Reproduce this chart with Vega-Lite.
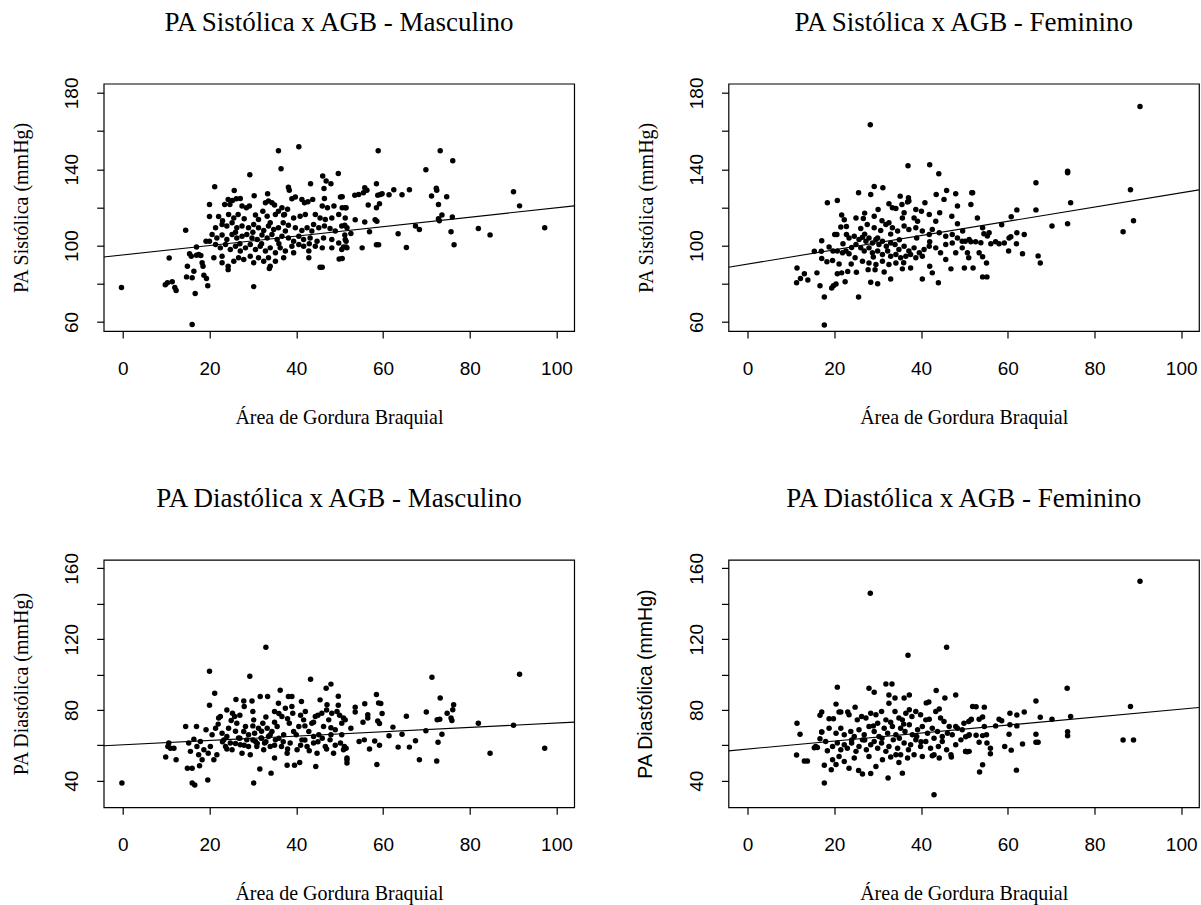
{
"$schema": "https://vega.github.io/schema/vega-lite/v6.json",
"autosize": {"type": "pad"},
"padding": {"left": 10.7, "top": 7.7, "right": 0, "bottom": 0},
"background": "white",
"config": {
  "view": {"stroke": "black", "strokeWidth": 1.2, "fill": "white"},
  "axis": {"domain": false, "grid": false, "tickColor": "black", "tickSize": 7, "tickWidth": 1.2, "labelColor": "black", "labelFont": "Liberation Sans", "labelFontSize": 19, "titleColor": "black", "titleFont": "Liberation Serif", "titleFontSize": 20, "titleFontWeight": "normal"},
  "title": {"font": "Liberation Serif", "fontSize": 27, "fontWeight": "normal", "color": "black", "baseline": "alphabetic", "offset": 40, "anchor": "middle"}
},
"datasets": {
"sm": [
{"x":-0.3,"y":78},{"x":9.8,"y":79.5},{"x":10.3,"y":80.5},{"x":10.7,"y":93.5},{"x":11.4,"y":81},{"x":12,"y":78},{"x":12.3,"y":76.5},{"x":14.5,"y":108},
{"x":14.9,"y":89.2},{"x":15.4,"y":95.7},{"x":15.8,"y":94.4},{"x":17,"y":94.9},{"x":17.5,"y":95.3},{"x":18,"y":94.8},{"x":14.7,"y":83.6},{"x":16,"y":83.1},{"x":16.4,"y":86.6},{"x":18.3,"y":91},{"x":18.5,"y":89.2},{"x":18.7,"y":84.5},{"x":19.3,"y":82.7},{"x":19.6,"y":79},{"x":16.7,"y":74.9},{"x":17,"y":99.3},{"x":19.2,"y":102.3},{"x":16,"y":58.6},
{"x":21.2,"y":130.8},{"x":25.7,"y":128.9},{"x":38.2,"y":130.6},{"x":38.4,"y":129},{"x":43.3,"y":132.4},{"x":46.1,"y":136.4},{"x":46.9,"y":133.8},{"x":48,"y":132.4},{"x":46.4,"y":129.9},{"x":46.5,"y":124.7},{"x":49.7,"y":137.8},{"x":50.2,"y":125.4},
{"x":35.9,"y":149.7},{"x":40.6,"y":151.8},{"x":36.5,"y":140.2},{"x":29.3,"y":137.1},
{"x":24.3,"y":124.2},{"x":25.3,"y":123.6},{"x":26.2,"y":124.5},{"x":27.1,"y":124.7},{"x":30.3,"y":126.1},{"x":33.4,"y":127.1},{"x":20,"y":121.5},{"x":23.5,"y":121.5},{"x":24.7,"y":121.5},{"x":27.5,"y":120.7},{"x":28.5,"y":119.8},{"x":29.2,"y":120.7},{"x":32.9,"y":122.4},{"x":33.6,"y":123.3},{"x":34.4,"y":122.4},{"x":35,"y":121.2},{"x":36.7,"y":119.8},{"x":37.3,"y":116.3},{"x":39,"y":124.5},{"x":39.8,"y":125.4},{"x":41.3,"y":124.2},{"x":41.9,"y":122.4},{"x":42.7,"y":122.9},{"x":43.8,"y":124.2},{"x":46,"y":120.7},{"x":47.2,"y":119.8},{"x":48.7,"y":120.7},{"x":51.5,"y":119.8},
{"x":22.1,"y":115.2},{"x":20,"y":115.2},{"x":24.4,"y":116.3},{"x":25.6,"y":114.5},{"x":26.6,"y":116.3},{"x":30.6,"y":116},{"x":31.3,"y":113.7},{"x":32.3,"y":118},{"x":33.3,"y":115.4},{"x":35.2,"y":116.3},{"x":35.9,"y":118},{"x":37.1,"y":116},{"x":39.4,"y":114.5},{"x":40.9,"y":115.4},{"x":42.1,"y":116.3},{"x":44.4,"y":116.3},{"x":45.5,"y":114.5},{"x":46.7,"y":113.7},{"x":48.2,"y":114.5},{"x":49.8,"y":116.3},{"x":51.3,"y":114.5},
{"x":21.4,"y":109.3},{"x":22.9,"y":111},{"x":24,"y":110.2},{"x":25.2,"y":111.9},{"x":26.3,"y":109.3},{"x":27.5,"y":110.2},{"x":29,"y":109.3},{"x":30.2,"y":111},{"x":31.3,"y":109.3},{"x":32.5,"y":107.9},{"x":33.6,"y":110.2},{"x":34.8,"y":108.4},{"x":35.9,"y":109.3},{"x":37.5,"y":107.6},{"x":38.2,"y":110.7},{"x":39.8,"y":109.3},{"x":41.3,"y":107.9},{"x":42.5,"y":109.3},{"x":43.6,"y":107.6},{"x":45.2,"y":109.3},{"x":46.5,"y":110.2},{"x":47.8,"y":109},{"x":49,"y":107.6},{"x":50.5,"y":110.2},{"x":51.7,"y":109.3},
{"x":20.6,"y":105.8},{"x":21.7,"y":104},{"x":22.9,"y":105.5},{"x":24,"y":103.2},{"x":25.2,"y":105.8},{"x":26.3,"y":104},{"x":27.5,"y":104.9},{"x":28.6,"y":105.8},{"x":29.8,"y":104},{"x":31,"y":103.2},{"x":32.1,"y":105.5},{"x":33.3,"y":104},{"x":34.4,"y":105.8},{"x":35.6,"y":103.2},{"x":36.7,"y":104.9},{"x":38.2,"y":104},{"x":39.4,"y":102.3},{"x":40.6,"y":104.9},{"x":41.7,"y":103.2},{"x":43.2,"y":104},{"x":44.8,"y":102.3},{"x":46.3,"y":104},{"x":48.2,"y":103.2},{"x":49.8,"y":101.4},{"x":51.3,"y":103.2},
{"x":21.4,"y":100.6},{"x":22.5,"y":98.8},{"x":23.7,"y":100.6},{"x":24.8,"y":97.9},{"x":26,"y":99.7},{"x":27.1,"y":97.1},{"x":28.3,"y":98.8},{"x":29.4,"y":100.6},{"x":30.6,"y":97.9},{"x":31.7,"y":99.7},{"x":32.9,"y":97.1},{"x":34,"y":98.8},{"x":35.2,"y":96.2},{"x":36.3,"y":98.8},{"x":37.5,"y":97.1},{"x":39,"y":99.7},{"x":40.6,"y":100.6},{"x":41.7,"y":99.7},{"x":42.9,"y":97.1},{"x":44.4,"y":99.7},{"x":46,"y":98.8},{"x":48.2,"y":98.8},{"x":50.5,"y":97.9},{"x":51.7,"y":98.8},
{"x":20,"y":102.3},{"x":21,"y":93.6},{"x":22.9,"y":91},{"x":24.3,"y":89.2},{"x":24.3,"y":87.4},{"x":25.6,"y":91.8},{"x":26.7,"y":93.6},{"x":27.9,"y":92.7},{"x":29.4,"y":94.4},{"x":30.2,"y":91},{"x":31.3,"y":93.6},{"x":32.5,"y":91.8},{"x":33.6,"y":93.6},{"x":34,"y":89.2},{"x":33.8,"y":88},{"x":35.2,"y":91.8},{"x":22.9,"y":94.4},{"x":30.2,"y":78.5},{"x":42.9,"y":93.6},{"x":45.5,"y":88.7},{"x":46,"y":88.7},{"x":49.9,"y":93},{"x":39.4,"y":96.2},{"x":37.1,"y":93.6},
{"x":23,"y":113},{"x":28,"y":114},{"x":34,"y":112},{"x":38,"y":119},{"x":44,"y":111},{"x":27,"y":101},{"x":32,"y":101},{"x":36,"y":101},{"x":43,"y":101},{"x":30,"y":107},{"x":37,"y":112},{"x":26,"y":107},
{"x":58.9,"y":149.7},{"x":73.2,"y":149.7},{"x":76.1,"y":144.4},{"x":69.9,"y":139.7},{"x":90.1,"y":128.2},{"x":91.5,"y":120.8},{"x":97.3,"y":109.3},{"x":82,"y":109},{"x":84.7,"y":105.6},{"x":76.4,"y":100.4},{"x":75.7,"y":107.2},{"x":72.8,"y":121.5},{"x":72.4,"y":129},{"x":72.3,"y":130},{"x":71.2,"y":126},{"x":74.7,"y":125.6},{"x":72.8,"y":114},{"x":73.6,"y":116},{"x":73,"y":113},{"x":76,"y":115},{"x":67.5,"y":110.2},{"x":68.4,"y":108.4},{"x":63.5,"y":106.2},{"x":65.4,"y":99},{"x":66.1,"y":129.2},{"x":64.4,"y":126.6},{"x":62.5,"y":129.2},{"x":61.4,"y":126.6},{"x":58.5,"y":132.4},{"x":58.8,"y":126.4},{"x":59.4,"y":126.8},{"x":59.8,"y":127.1},{"x":56.6,"y":121.2},{"x":59.2,"y":121.9},{"x":58.5,"y":119.8},{"x":58.6,"y":112.8},{"x":59,"y":100.4},{"x":58.5,"y":100.4},{"x":58.2,"y":113.5},{"x":54.4,"y":126.8},{"x":53.5,"y":126.4},{"x":55.5,"y":127.7},{"x":56.3,"y":129},{"x":55.8,"y":130.3},{"x":55.2,"y":98.8},{"x":52.6,"y":106.3},{"x":53.6,"y":113.5},{"x":55.8,"y":112.4},{"x":56.9,"y":107.2},{"x":50.6,"y":125.6},{"x":50.6,"y":119.8},{"x":51.3,"y":119.8},{"x":51.2,"y":110.7},{"x":50.9,"y":99.3},{"x":51.5,"y":99.2},{"x":50.6,"y":93.2},{"x":51.5,"y":102.3},{"x":51.2,"y":105.5}
],
"sf": [
{"x":28.3,"y":163.3},{"x":37,"y":141.8},{"x":42,"y":142.3},{"x":44.1,"y":137.6},{"x":25.6,"y":127.7},{"x":28.4,"y":126.8},{"x":29.2,"y":131},{"x":31.2,"y":130.3},{"x":18.4,"y":122.4},{"x":20.7,"y":123.6},{"x":35.2,"y":125.9},{"x":37.1,"y":125},{"x":37.2,"y":123.3},{"x":36.9,"y":122.8},{"x":43.5,"y":126.8},{"x":45.3,"y":124.2},{"x":45.9,"y":128.9},{"x":48,"y":127.1},{"x":51.7,"y":127.7},{"x":51.5,"y":121.5},{"x":48.4,"y":120.7},{"x":47.1,"y":115.4},{"x":48.4,"y":111.4},{"x":44.3,"y":117.2},
{"x":21.7,"y":116},{"x":22.3,"y":113.5},{"x":21.5,"y":109.7},{"x":22.8,"y":110},{"x":20.1,"y":105.8},{"x":20.6,"y":105.8},{"x":22.8,"y":105.8},
{"x":25,"y":114.5},{"x":26.7,"y":114.2},{"x":29.2,"y":115.4},{"x":30.1,"y":118.9},{"x":32.6,"y":121.9},{"x":33.4,"y":119.8},{"x":34.2,"y":119.4},{"x":35.6,"y":121.5},{"x":36.1,"y":117.2},{"x":38.8,"y":118.9},{"x":40.1,"y":118},{"x":40.9,"y":122.4},{"x":41.9,"y":116.3},{"x":43.4,"y":112.8},{"x":38.4,"y":114.5},{"x":39.2,"y":112.8},{"x":35.7,"y":114.5},{"x":32.6,"y":111.9},
{"x":26.1,"y":109},{"x":27.6,"y":111},{"x":29.2,"y":109.3},{"x":30.7,"y":107.9},{"x":31.9,"y":111},{"x":33.4,"y":109.3},{"x":34.6,"y":107.6},{"x":36.1,"y":110.2},{"x":37.2,"y":108.4},{"x":38.8,"y":109.3},{"x":40.3,"y":107.6},{"x":41.9,"y":105.8},{"x":42.6,"y":108.4},{"x":44.2,"y":106.7},{"x":45.7,"y":104.9},{"x":47.2,"y":105.8},{"x":48.4,"y":104},{"x":49.5,"y":102.3},{"x":51.1,"y":103.2},
{"x":23.4,"y":104},{"x":24.6,"y":104.9},{"x":25.7,"y":103.2},{"x":26.5,"y":104.4},{"x":27.3,"y":102.3},{"x":28,"y":104},{"x":28.8,"y":101.4},{"x":29.6,"y":103.2},{"x":30.3,"y":100.6},{"x":31.1,"y":102.3},{"x":32,"y":99.7},{"x":33,"y":101.4},{"x":34,"y":100.6},{"x":34.9,"y":97.9},{"x":36.1,"y":99.7},{"x":37.2,"y":97.1},{"x":38.4,"y":98.8},{"x":39.6,"y":96.2},{"x":40.7,"y":97.9},{"x":41.9,"y":99.7},{"x":43.4,"y":98.8},{"x":44.5,"y":96.2},{"x":45.7,"y":100.6},{"x":47.2,"y":101.4},{"x":48,"y":96.2},{"x":49.5,"y":98.8},{"x":50.7,"y":96.2},
{"x":25,"y":100.6},{"x":26.1,"y":98.8},{"x":26.9,"y":97.1},{"x":28,"y":98.8},{"x":28.8,"y":96.2},{"x":30,"y":97.1},{"x":31.1,"y":95.3},{"x":32.3,"y":97.1},{"x":33,"y":94.4},{"x":34.2,"y":95.3},{"x":35.3,"y":93.6},{"x":36.5,"y":94.4},{"x":37.6,"y":95.3},{"x":38.8,"y":93.6},{"x":40.3,"y":94.4},
{"x":19.7,"y":97.1},{"x":20.7,"y":97.1},{"x":21.9,"y":96.2},{"x":22.7,"y":97.1},{"x":23.4,"y":95.7},{"x":21.1,"y":90.4},{"x":19.6,"y":92.2},{"x":23.9,"y":90.4},{"x":24.8,"y":93.6},{"x":26.5,"y":91.8},{"x":28,"y":90.9},{"x":29.6,"y":90.1},{"x":31.1,"y":91.8},{"x":32.6,"y":90.1},{"x":34.2,"y":90.9},
{"x":15.4,"y":97},{"x":17,"y":97},{"x":17.1,"y":93.2},{"x":18.3,"y":91.5},{"x":18.8,"y":99.3},{"x":17.1,"y":102.5},{"x":16,"y":85.7},{"x":16.7,"y":79},{"x":19.4,"y":77.8},{"x":19.8,"y":79},{"x":20.4,"y":79.9},
{"x":20.7,"y":85.2},{"x":21.7,"y":85.7},{"x":22.5,"y":81},{"x":23.1,"y":86.4},{"x":25.1,"y":86},
{"x":11.4,"y":88.3},{"x":11.3,"y":80.5},{"x":12.2,"y":82.7},{"x":13.1,"y":85.3},{"x":13.9,"y":82},
{"x":17.7,"y":73.1},{"x":17.7,"y":58.4},{"x":25.6,"y":73.1},
{"x":27.8,"y":87.4},{"x":29.4,"y":87.3},{"x":28.4,"y":80.8},{"x":30,"y":80},{"x":31.5,"y":86.2},{"x":33,"y":82.5},
{"x":35.7,"y":87.8},{"x":37.6,"y":88.3},{"x":40.3,"y":82.5},{"x":42,"y":89.2},{"x":42.6,"y":85.7},{"x":44,"y":80.5},
{"x":46.9,"y":87.8},{"x":52,"y":88.3},{"x":45.7,"y":92.7},{"x":51,"y":93.6},
{"x":24,"y":99},{"x":27,"y":106},{"x":30,"y":104},{"x":33,"y":106},{"x":35,"y":103},{"x":39,"y":104},{"x":29,"y":94},{"x":36,"y":91},{"x":31,"y":113},{"x":27,"y":117},{"x":42,"y":102},{"x":22,"y":101},
{"x":90.5,"y":172.8},{"x":73.8,"y":139},{"x":73.8,"y":138.1},{"x":66.5,"y":132.9},{"x":66.5,"y":118.7},{"x":88.3,"y":129.2},{"x":89,"y":113},{"x":86.6,"y":107.2},{"x":74.5,"y":122.4},{"x":73.8,"y":111.4},{"x":70.2,"y":110.3},{"x":62.1,"y":118.7},{"x":60.8,"y":115.1},{"x":58.6,"y":110.9},{"x":63.4,"y":95.7},{"x":67,"y":94.6},{"x":67.5,"y":90.9},{"x":51.9,"y":127.7},{"x":53,"y":114.5},{"x":49.6,"y":107.6},{"x":50.2,"y":102.3},{"x":51.5,"y":102},{"x":52.6,"y":102},{"x":53.8,"y":101.5},{"x":54.2,"y":109.3},{"x":54.5,"y":106.2},{"x":55.7,"y":106.7},{"x":55.3,"y":105},{"x":56.1,"y":100.9},{"x":57.2,"y":102},{"x":58,"y":101},{"x":59.2,"y":101.4},{"x":60.3,"y":104},{"x":60.7,"y":104.6},{"x":62.1,"y":106.7},{"x":63.8,"y":105.8},{"x":62,"y":100.9},{"x":60.2,"y":97.2},{"x":53.4,"y":96.2},{"x":54.2,"y":94.1},{"x":55.1,"y":90.9},{"x":50,"y":88.3},{"x":54.2,"y":83.6},{"x":55.2,"y":83.6}
],
"dm": [
{"x":-0.2,"y":38.7},{"x":9.9,"y":53.4},{"x":12.3,"y":51.9},{"x":10.4,"y":59.4},{"x":11,"y":58.4},{"x":11.8,"y":58.4},{"x":10.6,"y":61.3},
{"x":14.5,"y":70.7},{"x":17,"y":70.7},{"x":14.9,"y":47.1},{"x":16,"y":47.1},{"x":17.7,"y":48.5},{"x":16,"y":38.7},{"x":16.6,"y":37.6},{"x":19.6,"y":40.4},
{"x":15.2,"y":61.3},{"x":15.6,"y":56.6},{"x":16.4,"y":63.5},{"x":17.1,"y":59.4},{"x":17.5,"y":54.7},{"x":18.3,"y":51.9},{"x":17.9,"y":62.2},{"x":18.7,"y":57.5},{"x":19.2,"y":68.8},{"x":19.7,"y":55.6},{"x":20.2,"y":59.4},{"x":20.6,"y":66},{"x":21,"y":51.9},{"x":20,"y":101.9},{"x":21.2,"y":89.5},{"x":20,"y":82.7},{"x":22.1,"y":75.4},{"x":22.5,"y":76.3},{"x":21.4,"y":69.7},{"x":21.7,"y":54.7},
{"x":22.9,"y":66.9},{"x":23.3,"y":63.1},{"x":23.7,"y":59.4},{"x":24,"y":65},{"x":24.4,"y":69.7},{"x":24.8,"y":61.3},{"x":25.2,"y":57.5},{"x":25.3,"y":78.2},{"x":25.8,"y":76.3},{"x":26.1,"y":85.9},{"x":26.3,"y":72.5},{"x":26.7,"y":64.1},{"x":27.1,"y":60.3},{"x":27.5,"y":55.6},{"x":27.9,"y":85},{"x":27.9,"y":67.8},{"x":28.3,"y":70.7},{"x":28.6,"y":63.1},{"x":29,"y":59.4},{"x":29.3,"y":99.1},{"x":29.4,"y":54.7},{"x":29.8,"y":85},{"x":30,"y":79.1},{"x":30.2,"y":74.4},{"x":30.2,"y":38.7},{"x":30.4,"y":66.9},{"x":30.6,"y":62.2},{"x":30.9,"y":59.4},{"x":31.3,"y":69.7},{"x":31.6,"y":46.6},{"x":31.7,"y":87.6},{"x":31.9,"y":64.1},{"x":32.3,"y":72.5},{"x":32.5,"y":57.5},{"x":32.7,"y":61.3},{"x":33,"y":115.4},{"x":33.3,"y":69.7},{"x":33.4,"y":87.6},{"x":33.6,"y":65},{"x":34,"y":59.4},{"x":34.2,"y":44.3},{"x":34.4,"y":67.8},{"x":35,"y":79.1},{"x":35,"y":52.8},{"x":35.2,"y":63.1},{"x":35.6,"y":70.7},{"x":35.9,"y":83.8},{"x":36.3,"y":91.2},{"x":36.6,"y":59.4},{"x":36.7,"y":76.3},{"x":37.1,"y":66},{"x":37.5,"y":81},{"x":37.9,"y":48.7},{"x":37.9,"y":55.6},{"x":38.2,"y":87.6},{"x":38.4,"y":72.5},{"x":38.6,"y":61.3},{"x":39,"y":87.6},{"x":39.2,"y":78.2},{"x":39.4,"y":67.8},{"x":39.6,"y":48.7},{"x":40.2,"y":57.5},{"x":40.6,"y":70.7},{"x":40.8,"y":50.3},{"x":41.2,"y":84.8},{"x":41.3,"y":63.1},{"x":41.7,"y":74.4},{"x":42.1,"y":79.1},{"x":42.5,"y":59.4},{"x":42.9,"y":67.8},{"x":43.3,"y":97.4},{"x":43.6,"y":72.5},{"x":44,"y":61.3},{"x":44.4,"y":76.3},{"x":44.5,"y":48.1},{"x":44.8,"y":55.6},{"x":45.2,"y":66},{"x":45.5,"y":85.7},{"x":45.9,"y":78.2},{"x":46.3,"y":70.7},{"x":46.7,"y":59.4},{"x":46.9,"y":92.3},{"x":47.1,"y":82.9},{"x":47.5,"y":74.4},{"x":47.8,"y":63.1},{"x":48,"y":94.6},{"x":48.2,"y":78.2},{"x":48.6,"y":55.6},{"x":49,"y":68.8},{"x":49.4,"y":79.1},{"x":49.7,"y":87.8},{"x":49.7,"y":82.7},{"x":50.2,"y":61.3},{"x":50.5,"y":72.5},{"x":50.9,"y":57.5},{"x":51.7,"y":51.9},{"x":51.7,"y":50},
{"x":23,"y":62},{"x":24,"y":58},{"x":26,"y":61},{"x":27,"y":64},{"x":28,"y":60},{"x":29,"y":66},{"x":30,"y":63},{"x":31,"y":61},{"x":32,"y":64},{"x":33,"y":62},{"x":34,"y":66},{"x":35,"y":60},{"x":36,"y":64},{"x":37,"y":62},{"x":38,"y":58},{"x":40,"y":66},{"x":41,"y":60},{"x":42,"y":63},{"x":43,"y":57},{"x":44,"y":65},{"x":45,"y":62},{"x":46,"y":64},{"x":47,"y":58},{"x":48,"y":66},{"x":49,"y":60},
{"x":22,"y":72},{"x":25,"y":74},{"x":27,"y":77},{"x":30,"y":71},{"x":33,"y":76},{"x":35,"y":73},{"x":38,"y":75},{"x":41,"y":77},{"x":44,"y":73},{"x":47,"y":80},{"x":24,"y":80},{"x":28,"y":82},{"x":26,"y":68},{"x":32,"y":68},{"x":36,"y":78},{"x":39,"y":82},{"x":42,"y":71},{"x":45,"y":77},{"x":48,"y":70},{"x":50,"y":77},
{"x":91.5,"y":100.2},{"x":71.3,"y":98.5},{"x":97.3,"y":58.4},{"x":84.7,"y":55.6},{"x":82,"y":72.5},{"x":90.1,"y":71.4},{"x":73.2,"y":86.7},{"x":70,"y":78.8},{"x":69.9,"y":68.2},{"x":68.4,"y":51.9},{"x":72.4,"y":51.1},{"x":76.3,"y":82.9},{"x":76.1,"y":80.1},{"x":74.8,"y":78.2},{"x":75.7,"y":75.4},{"x":75.9,"y":74.1},{"x":73.6,"y":66.3},{"x":72.7,"y":61.8},{"x":72.5,"y":74.5},{"x":73.1,"y":74.7},{"x":65.4,"y":76.5},{"x":62.3,"y":70.3},{"x":61.4,"y":65.4},{"x":63.5,"y":59},{"x":66.1,"y":59},{"x":64.4,"y":66.3},{"x":67.5,"y":62.6},{"x":58.5,"y":88.7},{"x":59,"y":84},{"x":59.5,"y":83.6},{"x":59.8,"y":78},{"x":58.8,"y":73.7},{"x":59.2,"y":72.3},{"x":58.1,"y":62.4},{"x":59.2,"y":60.1},{"x":58.6,"y":49.2},{"x":56.9,"y":58},{"x":55.7,"y":63.1},{"x":54.5,"y":62.2},{"x":55.4,"y":73.1},{"x":56.5,"y":77.3},{"x":56.5,"y":75.4},{"x":55.8,"y":83.5},{"x":53.6,"y":81.6},{"x":53.6,"y":78.8},{"x":52.6,"y":69.7},{"x":50.9,"y":75.4},{"x":51.3,"y":74.4},{"x":50.5,"y":66},{"x":51.1,"y":59.4},{"x":51.5,"y":58.4},{"x":51.7,"y":52.8}
],
"df": [
{"x":28.3,"y":145.9},{"x":37,"y":110.9},{"x":45.9,"y":115.4},{"x":20.7,"y":92.9},{"x":17.7,"y":38.7},{"x":43,"y":32.1},
{"x":11.4,"y":72.5},{"x":12.1,"y":66.3},{"x":11.3,"y":54.5},{"x":13.1,"y":51.1},{"x":13.8,"y":51.1},
{"x":16.7,"y":77},{"x":17.1,"y":78.8},{"x":17.1,"y":67.5},{"x":16.7,"y":63.7},{"x":15.4,"y":58.6},{"x":16.1,"y":58.8},{"x":17.7,"y":48.7},{"x":19.3,"y":46.2},{"x":18.4,"y":56.9},{"x":20.4,"y":49.2},
{"x":28,"y":92.3},{"x":29.2,"y":90},{"x":31.9,"y":94.7},{"x":33.3,"y":94.7},{"x":32.6,"y":88.5},{"x":34,"y":86.7},{"x":36.1,"y":86.7},{"x":37.3,"y":88.5},{"x":43.5,"y":91},{"x":45.5,"y":86.7},{"x":48,"y":88.4},{"x":44.2,"y":80.6},{"x":41.2,"y":84},{"x":41.8,"y":84.5},
{"x":24.8,"y":81.6},{"x":21.5,"y":78.8},{"x":23.1,"y":78.8},{"x":18.8,"y":75},{"x":19.8,"y":75},{"x":20.4,"y":83.3},
{"x":29.6,"y":48.1},{"x":32.4,"y":41.5},{"x":35.7,"y":44.3},{"x":26.5,"y":43.8},{"x":28.4,"y":44.1},{"x":25.6,"y":45.8},{"x":23.4,"y":47.1},
{"x":50.3,"y":56.6},{"x":51.1,"y":56.6},{"x":47,"y":53.4},
{"x":21.1,"y":78.8},{"x":23.4,"y":77.3},{"x":25.3,"y":74.4},{"x":26.3,"y":76.3},{"x":27.3,"y":75.4},{"x":28.4,"y":78.2},{"x":29.6,"y":77.3},{"x":30.9,"y":79.1},{"x":31.9,"y":74.4},{"x":32.6,"y":83.8},{"x":34,"y":79.1},{"x":34.9,"y":75.4},{"x":35.7,"y":74.4},{"x":36.5,"y":78.2},{"x":37.3,"y":80.1},{"x":37.9,"y":76.3},{"x":38.8,"y":79.1},{"x":39.9,"y":77.3},{"x":41.1,"y":74.4},{"x":41.9,"y":74.8},{"x":43.4,"y":79.1},{"x":44.5,"y":75.4},{"x":45.3,"y":73.5},{"x":46.5,"y":70.7},{"x":48,"y":70.7},{"x":49.9,"y":72.5},{"x":51.5,"y":74.4},
{"x":17.1,"y":67.5},{"x":18.8,"y":69.7},{"x":20.4,"y":66.9},{"x":21.5,"y":69.7},{"x":22.3,"y":66},{"x":23.8,"y":67.8},{"x":24.6,"y":65},{"x":25.7,"y":68.8},{"x":26.9,"y":66},{"x":28,"y":70.7},{"x":29.2,"y":67.8},{"x":30,"y":72.5},{"x":30.3,"y":65},{"x":31.5,"y":69.7},{"x":32.3,"y":66.9},{"x":33.4,"y":70.7},{"x":34.2,"y":66},{"x":35.3,"y":69.7},{"x":36.3,"y":67.8},{"x":37.3,"y":71.6},{"x":38,"y":66},{"x":39.2,"y":68.8},{"x":40.3,"y":70.7},{"x":41.5,"y":66.9},{"x":42.6,"y":69.7},{"x":43.8,"y":67.8},{"x":44.9,"y":65},{"x":46.1,"y":66.9},{"x":47.2,"y":66},{"x":48.4,"y":69.7},{"x":49.5,"y":68.8},{"x":51.1,"y":66},
{"x":15.7,"y":59.4},{"x":18,"y":62.2},{"x":19.6,"y":59.4},{"x":20.7,"y":61.3},{"x":21.5,"y":57.5},{"x":22.3,"y":60.3},{"x":23,"y":58.4},{"x":24,"y":61.3},{"x":25,"y":56.6},{"x":25.7,"y":59.4},{"x":26.5,"y":63.1},{"x":27.4,"y":57.5},{"x":28.4,"y":60.3},{"x":29.2,"y":62.2},{"x":30,"y":58.4},{"x":30.9,"y":61.3},{"x":31.9,"y":56.6},{"x":32.6,"y":59.4},{"x":33.6,"y":63.1},{"x":34.6,"y":58.4},{"x":35.3,"y":54.7},{"x":36.1,"y":61.3},{"x":37.1,"y":57.5},{"x":37.6,"y":60.3},{"x":38.8,"y":63.1},{"x":39.9,"y":59.4},{"x":41.1,"y":62.2},{"x":42.2,"y":58.4},{"x":43,"y":54.7},{"x":44,"y":59.4},{"x":44.9,"y":62.2},{"x":45.9,"y":57.5},{"x":46.9,"y":54.7},{"x":48,"y":60.3},{"x":49.2,"y":63.1},{"x":50.3,"y":56.6},
{"x":19.6,"y":51.9},{"x":21.1,"y":53.7},{"x":22.3,"y":50.9},{"x":24.6,"y":52.8},{"x":28,"y":53.7},{"x":31.1,"y":51.9},{"x":33,"y":53.4},{"x":34.2,"y":54.7},{"x":34.9,"y":50.3},{"x":36.9,"y":52.8},{"x":38.4,"y":54.7},{"x":40.3,"y":53.7},{"x":42.6,"y":54.1},{"x":44.2,"y":52.8},
{"x":27,"y":63},{"x":31,"y":64},{"x":35,"y":64},{"x":39,"y":65},{"x":33,"y":73},{"x":29,"y":71},{"x":36,"y":72},{"x":40,"y":62},{"x":24,"y":63},{"x":43,"y":64},
{"x":90.5,"y":152.7},{"x":73.7,"y":92.3},{"x":66.5,"y":85},{"x":88.3,"y":82},{"x":86.6,"y":63},{"x":89,"y":63},{"x":74.5,"y":76.3},{"x":73.8,"y":65.4},{"x":73.8,"y":67.7},{"x":67.5,"y":75.9},{"x":66.5,"y":66.3},{"x":66.5,"y":61.8},{"x":67,"y":61.8},{"x":70.2,"y":74.8},{"x":63.8,"y":78.8},{"x":62.1,"y":77.1},{"x":60.5,"y":78.2},{"x":62.1,"y":71},{"x":60.5,"y":71.6},{"x":60.3,"y":66.3},{"x":63.4,"y":60.7},{"x":59.3,"y":59.4},{"x":60.8,"y":57.3},{"x":62,"y":46},{"x":58,"y":74.8},{"x":58.6,"y":73.9},{"x":57.2,"y":71},{"x":56,"y":58.4},{"x":56,"y":55.2},{"x":55.2,"y":61.3},{"x":53.4,"y":61.8},{"x":54.2,"y":49},{"x":53.5,"y":44.9},{"x":54.6,"y":81.6},{"x":51.9,"y":82},{"x":52.7,"y":81.8},{"x":54.2,"y":76},{"x":53.4,"y":74.8},{"x":51.6,"y":74.8},{"x":51,"y":73.5},{"x":54.6,"y":70.7},{"x":55.1,"y":66},{"x":54.2,"y":65.5},{"x":52.7,"y":65.7},{"x":51,"y":65.5},{"x":50.3,"y":64.8},{"x":50.3,"y":56.5},{"x":50.7,"y":56.4}
],
"lines": [
{"p":"sm","x":-4.4,"y":94.0},{"p":"sm","x":104.1,"y":120.8},
{"p":"sf","x":-4.4,"y":88.65},{"p":"sf","x":104.1,"y":129.2},
{"p":"dm","x":-4.4,"y":59.75},{"p":"dm","x":104.1,"y":73.1},
{"p":"df","x":-4.4,"y":56.9},{"p":"df","x":104.1,"y":81.4}
]
},
"columns": 2,
"bounds": "flush",
"spacing": {"row": 228.2, "column": 153.8},
"concat": [
{
 "width": 470.5, "height": 247.4,
 "title": "PA Sistólica x AGB - Masculino",
 "layer": [
  {"data": {"name": "sm"}, "mark": {"type": "circle", "size": 30, "color": "black", "opacity": 1},
   "encoding": {
    "x": {"field": "x", "type": "quantitative", "scale": {"domain": [-4.4, 104.1], "nice": false, "zero": false},
          "axis": {"values": [0, 20, 40, 60, 80, 100], "title": "Área de Gordura Braquial", "labelBaseline": "alphabetic", "labelPadding": 36.5, "titleX": 235.25, "titleY": 92, "titleAlign": "center", "titleBaseline": "alphabetic"}},
    "y": {"field": "y", "type": "quantitative", "scale": {"domain": [55.2, 184.8], "nice": false, "zero": false},
          "axis": {"values": [60, 80, 100, 120, 140, 160, 180], "labelExpr": "(datum.value - 20) % 40 == 0 ? datum.label : ''", "labelAngle": 270, "labelAlign": "center", "labelBaseline": "middle", "labelPadding": 25, "title": "PA Sistólica (mmHg)", "titleX": -82, "titleY": 123.7, "titleAngle": 270, "titleAlign": "center", "titleBaseline": "middle"}}
   }},
  {"data": {"name": "lines"}, "transform": [{"filter": "datum.p == 'sm'"}], "mark": {"type": "line", "color": "black", "strokeWidth": 1.1, "clip": true},
   "encoding": {"x": {"field": "x", "type": "quantitative"}, "y": {"field": "y", "type": "quantitative"}}}
 ]
},
{
 "width": 470.5, "height": 247.4,
 "title": "PA Sistólica x AGB - Feminino",
 "layer": [
  {"data": {"name": "sf"}, "mark": {"type": "circle", "size": 30, "color": "black", "opacity": 1},
   "encoding": {
    "x": {"field": "x", "type": "quantitative", "scale": {"domain": [-4.4, 104.1], "nice": false, "zero": false},
          "axis": {"values": [0, 20, 40, 60, 80, 100], "title": "Área de Gordura Braquial", "labelBaseline": "alphabetic", "labelPadding": 36.5, "titleX": 235.25, "titleY": 92, "titleAlign": "center", "titleBaseline": "alphabetic"}},
    "y": {"field": "y", "type": "quantitative", "scale": {"domain": [55.2, 184.8], "nice": false, "zero": false},
          "axis": {"values": [60, 80, 100, 120, 140, 160, 180], "labelExpr": "(datum.value - 20) % 40 == 0 ? datum.label : ''", "labelAngle": 270, "labelAlign": "center", "labelBaseline": "middle", "labelPadding": 25, "title": "PA Sistólica (mmHg)", "titleX": -82, "titleY": 123.7, "titleAngle": 270, "titleAlign": "center", "titleBaseline": "middle"}}
   }},
  {"data": {"name": "lines"}, "transform": [{"filter": "datum.p == 'sf'"}], "mark": {"type": "line", "color": "black", "strokeWidth": 1.1, "clip": true},
   "encoding": {"x": {"field": "x", "type": "quantitative"}, "y": {"field": "y", "type": "quantitative"}}}
 ]
},
{
 "width": 470.5, "height": 247.4,
 "title": "PA Diastólica x AGB - Masculino",
 "layer": [
  {"data": {"name": "dm"}, "mark": {"type": "circle", "size": 30, "color": "black", "opacity": 1},
   "encoding": {
    "x": {"field": "x", "type": "quantitative", "scale": {"domain": [-4.4, 104.1], "nice": false, "zero": false},
          "axis": {"values": [0, 20, 40, 60, 80, 100], "title": "Área de Gordura Braquial", "labelBaseline": "alphabetic", "labelPadding": 36.5, "titleX": 235.25, "titleY": 92, "titleAlign": "center", "titleBaseline": "alphabetic"}},
    "y": {"field": "y", "type": "quantitative", "scale": {"domain": [25, 164.8], "nice": false, "zero": false},
          "axis": {"values": [40, 60, 80, 100, 120, 140, 160], "labelExpr": "datum.value % 40 == 0 ? datum.label : ''", "labelAngle": 270, "labelAlign": "center", "labelBaseline": "middle", "labelPadding": 25, "title": "PA Diastólica (mmHg)", "titleX": -82, "titleY": 123.7, "titleAngle": 270, "titleAlign": "center", "titleBaseline": "middle"}}
   }},
  {"data": {"name": "lines"}, "transform": [{"filter": "datum.p == 'dm'"}], "mark": {"type": "line", "color": "black", "strokeWidth": 1.1, "clip": true},
   "encoding": {"x": {"field": "x", "type": "quantitative"}, "y": {"field": "y", "type": "quantitative"}}}
 ]
},
{
 "width": 470.5, "height": 247.4,
 "title": "PA Diastólica x AGB - Feminino",
 "layer": [
  {"data": {"name": "df"}, "mark": {"type": "circle", "size": 30, "color": "black", "opacity": 1},
   "encoding": {
    "x": {"field": "x", "type": "quantitative", "scale": {"domain": [-4.4, 104.1], "nice": false, "zero": false},
          "axis": {"values": [0, 20, 40, 60, 80, 100], "title": "Área de Gordura Braquial", "labelBaseline": "alphabetic", "labelPadding": 36.5, "titleX": 235.25, "titleY": 92, "titleAlign": "center", "titleBaseline": "alphabetic"}},
    "y": {"field": "y", "type": "quantitative", "scale": {"domain": [25, 164.8], "nice": false, "zero": false},
          "axis": {"values": [40, 60, 80, 100, 120, 140, 160], "labelExpr": "datum.value % 40 == 0 ? datum.label : ''", "labelAngle": 270, "labelAlign": "center", "labelBaseline": "middle", "labelPadding": 25, "title": "PA Diastólica (mmHg)", "titleFont": "Liberation Sans", "titleFontSize": 19.5, "titleX": -83, "titleY": 123.7, "titleAngle": 270, "titleAlign": "center", "titleBaseline": "middle"}}
   }},
  {"data": {"name": "lines"}, "transform": [{"filter": "datum.p == 'df'"}], "mark": {"type": "line", "color": "black", "strokeWidth": 1.1, "clip": true},
   "encoding": {"x": {"field": "x", "type": "quantitative"}, "y": {"field": "y", "type": "quantitative"}}}
 ]
}
]
}
